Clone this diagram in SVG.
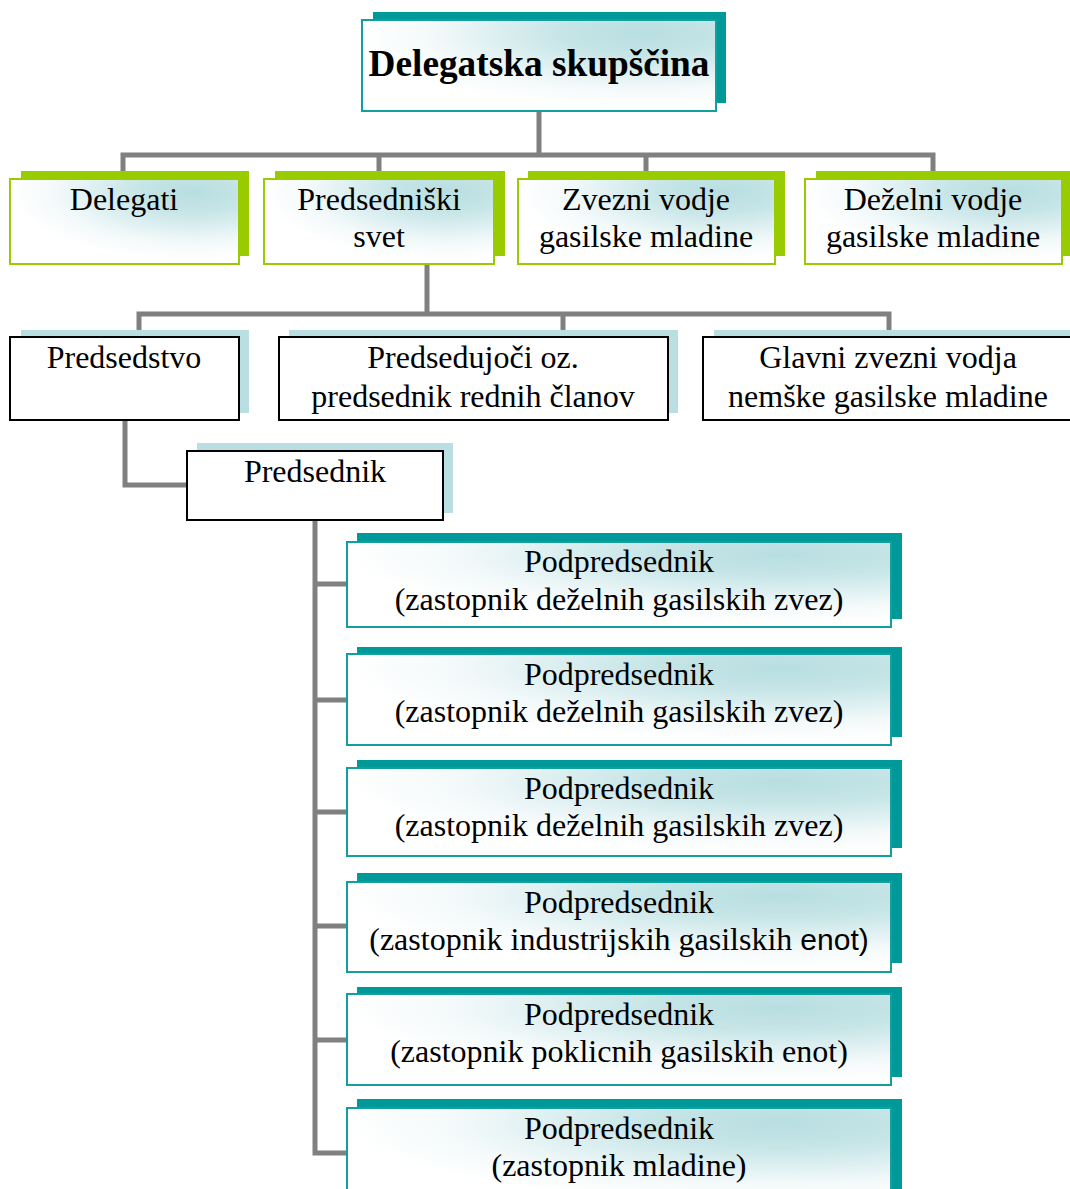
<svg xmlns="http://www.w3.org/2000/svg" width="1070" height="1189" viewBox="0 0 1070 1189">
<defs>
<radialGradient id="g" cx="0.8" cy="0.15" r="0.8" gradientUnits="objectBoundingBox">
<stop offset="0" stop-color="#b8dee1"/>
<stop offset="0.3" stop-color="#c6e5e7"/>
<stop offset="0.75" stop-color="#f3f9fa"/>
<stop offset="1" stop-color="#ffffff"/>
</radialGradient>
</defs>
<style>
.conn{stroke:#808080;stroke-width:5;fill:none;stroke-linecap:square}
.sh-teal{fill:#009999}
.sh-green{fill:#99cc00}
.sh-blue{fill:#b9dfe2}
.b-teal{fill:url(#g);stroke:#119f9f;stroke-width:2}
.b-green{fill:url(#g);stroke:#99cc00;stroke-width:2}
.b-black{fill:#ffffff;stroke:#000000;stroke-width:2}
text{font-family:"Liberation Serif","Times New Roman",serif;font-size:32px;fill:#000;text-anchor:middle}
.title{font-weight:bold;font-size:37.3px}
.sans{font-family:"Liberation Sans",Arial,sans-serif;font-size:30px}
</style>
<g id="connectors">
<path class="conn" d="M539,111 V155 M123,171 V155 H933 V171 M379,155 V171 M646,155 V171"/>
<path class="conn" d="M427,264 V314 M139,330 V314 H889 V330 M563,314 V330"/>
<path class="conn" d="M125,420 V485 H187"/>
<path class="conn" d="M315,520 V1153 H347 M315,584 H347 M315,700 H347 M315,812 H347 M315,926 H347 M315,1040 H347"/>
</g>
<g id="n-skupscina">
<rect class="sh-teal" x="373" y="12" width="353" height="91"/>
<rect class="b-teal" x="362" y="20" width="354" height="91"/>
<text class="title" x="539" y="76">Delegatska skupščina</text>
</g>
<g id="n-delegati">
<rect class="sh-green" x="21" y="171" width="228" height="85"/>
<rect class="b-green" x="10" y="179" width="229" height="85"/>
<text x="124" y="210">Delegati</text>
</g>
<g id="n-predsedniski-svet">
<rect class="sh-green" x="275" y="171" width="230" height="85"/>
<rect class="b-green" x="264" y="179" width="230" height="85"/>
<text x="379" y="210">Predsedniški</text>
<text x="379" y="247">svet</text>
</g>
<g id="n-zvezni-vodje">
<rect class="sh-green" x="528" y="171" width="257" height="85"/>
<rect class="b-green" x="518" y="179" width="257" height="85"/>
<text x="646" y="210">Zvezni vodje</text>
<text x="646" y="247">gasilske mladine</text>
</g>
<g id="n-dezelni-vodje">
<rect class="sh-green" x="816" y="171" width="260" height="85"/>
<rect class="b-green" x="805" y="179" width="257" height="85"/>
<text x="933" y="210">Deželni vodje</text>
<text x="933" y="247">gasilske mladine</text>
</g>
<g id="n-predsedstvo">
<rect class="sh-blue" x="21" y="330" width="228" height="83"/>
<rect class="b-black" x="10" y="337" width="229" height="83"/>
<text x="124" y="368">Predsedstvo</text>
</g>
<g id="n-predsedujoci">
<rect class="sh-blue" x="289" y="330" width="389" height="83"/>
<rect class="b-black" x="279" y="337" width="389" height="83"/>
<text x="473" y="368">Predsedujoči oz.</text>
<text x="473" y="407">predsednik rednih članov</text>
</g>
<g id="n-glavni-vodja">
<rect class="sh-blue" x="714" y="330" width="370" height="83"/>
<rect class="b-black" x="703" y="337" width="380" height="83"/>
<text x="888" y="368">Glavni zvezni vodja</text>
<text x="888" y="407">nemške gasilske mladine</text>
</g>
<g id="n-predsednik">
<rect class="sh-blue" x="197" y="443" width="256" height="70"/>
<rect class="b-black" x="187" y="451" width="256" height="69"/>
<text x="315" y="482">Predsednik</text>
</g>
<g id="n-pp1">
<rect class="sh-teal" x="357" y="533" width="545" height="86"/>
<rect class="b-teal" x="347" y="542" width="544" height="85"/>
<text x="619" y="572">Podpredsednik</text>
<text x="619" y="610">(zastopnik deželnih gasilskih zvez)</text>
</g>
<g id="n-pp2">
<rect class="sh-teal" x="357" y="647" width="545" height="90"/>
<rect class="b-teal" x="347" y="654" width="544" height="91"/>
<text x="619" y="685">Podpredsednik</text>
<text x="619" y="722">(zastopnik deželnih gasilskih zvez)</text>
</g>
<g id="n-pp3">
<rect class="sh-teal" x="357" y="760" width="545" height="88"/>
<rect class="b-teal" x="347" y="768" width="544" height="88"/>
<text x="619" y="799">Podpredsednik</text>
<text x="619" y="836">(zastopnik deželnih gasilskih zvez)</text>
</g>
<g id="n-pp4">
<rect class="sh-teal" x="357" y="873" width="545" height="90"/>
<rect class="b-teal" x="347" y="882" width="544" height="90"/>
<text x="619" y="913">Podpredsednik</text>
<text x="619" y="950">(zastopnik industrijskih gasilskih <tspan class="sans">enot)</tspan></text>
</g>
<g id="n-pp5">
<rect class="sh-teal" x="357" y="987" width="545" height="90"/>
<rect class="b-teal" x="347" y="994" width="544" height="91"/>
<text x="619" y="1025">Podpredsednik</text>
<text x="619" y="1062">(zastopnik poklicnih gasilskih enot)</text>
</g>
<g id="n-pp6">
<rect class="sh-teal" x="357" y="1099" width="545" height="100"/>
<rect class="b-teal" x="347" y="1108" width="544" height="100"/>
<text x="619" y="1139">Podpredsednik</text>
<text x="619" y="1176">(zastopnik mladine)</text>
</g>
</svg>
